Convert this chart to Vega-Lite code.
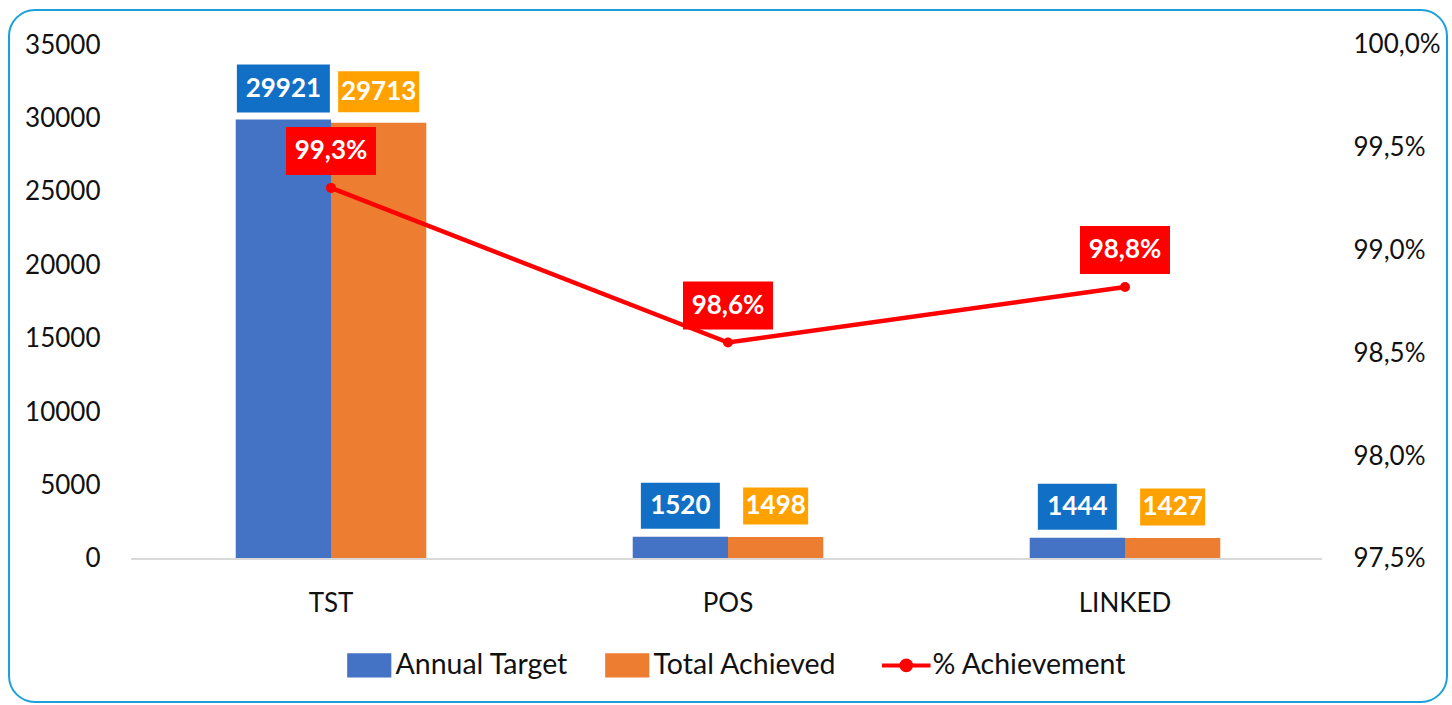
{
  "$schema": "https://vega.github.io/schema/vega-lite/v6.json",
  "width": 1438,
  "height": 692,
  "autosize": "none",
  "padding": {"left": 9, "top": 10, "right": 5, "bottom": 3},
  "background": "white",
  "config": {
    "font": "Lato",
    "locale": {"number": {"decimal": ",", "thousands": ".", "grouping": [3], "currency": ["", " €"]}},
    "view": {"stroke": "#1AA0DB", "strokeWidth": 2, "cornerRadius": 26},
    "axis": {"grid": false, "ticks": false, "domain": false, "labelFontSize": 26, "labelColor": "#111111"}
  },
  "datasets": {
    "bars": [
      {"cat": "TST", "series": "Annual Target", "value": 29921},
      {"cat": "TST", "series": "Total Achieved", "value": 29713},
      {"cat": "POS", "series": "Annual Target", "value": 1520},
      {"cat": "POS", "series": "Total Achieved", "value": 1498},
      {"cat": "LINKED", "series": "Annual Target", "value": 1444},
      {"cat": "LINKED", "series": "Total Achieved", "value": 1427}
    ],
    "pct": [
      {"cat": "TST", "pct": 0.99305},
      {"cat": "POS", "pct": 0.98553},
      {"cat": "LINKED", "pct": 0.98823}
    ]
  },
  "layer": [
    {
      "layer": [
        {
          "data": {"name": "bars"},
          "mark": {"type": "bar"},
          "encoding": {
            "x": {"field": "cat", "type": "nominal", "title": null,
              "scale": {"domain": ["TST", "POS", "LINKED"], "paddingInner": 0.52, "paddingOuter": 0.5711},
              "axis": {"orient": "bottom", "offset": -143, "labelPadding": 31, "labelAngle": 0, "labelFontSize": 26}},
            "xOffset": {"field": "series", "type": "nominal",
              "scale": {"domain": ["Annual Target", "Total Achieved"], "paddingInner": 0, "paddingOuter": 0}},
            "y": {"field": "value", "type": "quantitative", "title": null, "stack": null,
              "scale": {"domain": [-9737.4, 37383.3], "nice": false, "zero": false},
              "axis": {"orient": "left", "values": [0, 5000, 10000, 15000, 20000, 25000, 30000, 35000], "format": "d", "offset": -96, "labelPadding": 5}},
            "y2": {"datum": 0},
            "color": {"field": "series", "type": "nominal",
              "scale": {"domain": ["Annual Target", "Total Achieved", "% Achievement"], "range": ["#4472C4", "#ED7D31", "#FF0000"]},
              "legend": {
                "orient": "none", "legendX": 346, "legendY": 641, "direction": "horizontal", "title": null,
                "labelFontSize": 28.5, "labelColor": "#111111", "labelOffset": 12, "labelLimit": 400, "columnPadding": 36,
                "symbolSize": 1950, "symbolStrokeWidth": 4,
                "encode": {"symbols": {"update": {
                  "shape": {"signal": "datum.value === '% Achievement' ? 'M-1.1,0H1.1M-0.22,0A0.22,0.22 0 1,1 0.22,0A0.22,0.22 0 1,1 -0.22,0Z' : 'M-1,-0.55H1V0.55H-1Z'"},
                  "fill": {"signal": "datum.value === 'Annual Target' ? '#4472C4' : datum.value === 'Total Achieved' ? '#ED7D31' : '#FF0000'"},
                  "stroke": {"signal": "datum.value === '% Achievement' ? '#FF0000' : 'transparent'"},
                  "strokeWidth": {"signal": "datum.value === '% Achievement' ? 4 : 0"},
                  "opacity": {"value": 1},
                  "fillOpacity": {"value": 1}
                }}}
              }
            }
          }
        },
        {
          "data": {"values": [{"base": 0}]},
          "mark": {"type": "rule", "color": "#D9D9D9", "strokeWidth": 2, "xOffset": -200, "x2Offset": 197},
          "encoding": {
            "x": {"datum": "TST", "type": "nominal", "bandPosition": 0.5, "title": null},
            "x2": {"datum": "LINKED", "bandPosition": 0.5},
            "y": {"field": "base", "type": "quantitative", "title": null}
          }
        },
        {
          "data": {"name": "bars"},
          "mark": {"type": "point", "filled": true, "size": 10000, "opacity": 1, "strokeWidth": 0, "yOffset": -31},
          "encoding": {
            "x": {"field": "cat", "type": "nominal", "title": null},
            "xOffset": {"field": "series", "type": "nominal"},
            "y": {"field": "value", "type": "quantitative", "title": null},
            "shape": {"condition": [
              {"test": "datum.series === 'Annual Target' && datum.value >= 10000", "value": "M-0.93,-0.48H0.93V0.48H-0.93Z"},
              {"test": "datum.series === 'Annual Target'", "value": "M-0.79,-0.46H0.79V0.46H-0.79Z"},
              {"test": "datum.value >= 10000", "value": "M-0.81,-0.41H0.81V0.41H-0.81Z"}
            ], "value": "M-0.65,-0.37H0.65V0.37H-0.65Z"},
            "fill": {"condition": {"test": "datum.series === 'Annual Target'", "value": "#1170C6"}, "value": "#FFA200"}
          }
        },
        {
          "data": {"name": "bars"},
          "mark": {"type": "text", "fontWeight": "bold", "fontSize": 26, "color": "white", "baseline": "middle", "yOffset": -31},
          "encoding": {
            "x": {"field": "cat", "type": "nominal", "title": null},
            "xOffset": {"field": "series", "type": "nominal"},
            "y": {"field": "value", "type": "quantitative", "title": null},
            "text": {"field": "value", "type": "quantitative", "format": "d"}
          }
        }
      ]
    },
    {
      "data": {"name": "pct"},
      "layer": [
        {
          "mark": {"type": "line", "color": "#FF0000", "strokeWidth": 4.5},
          "encoding": {
            "x": {"field": "cat", "type": "nominal", "title": null},
            "y": {"field": "pct", "type": "quantitative", "title": null,
              "scale": {"domain": [0.9680447, 1.0017023], "nice": false, "zero": false},
              "axis": {"orient": "right", "values": [0.975, 0.98, 0.985, 0.99, 0.995, 1.0], "format": ".1%", "offset": -99, "labelPadding": 5}}
          }
        },
        {
          "mark": {"type": "circle", "color": "#FF0000", "size": 100, "opacity": 1},
          "encoding": {
            "x": {"field": "cat", "type": "nominal", "title": null},
            "y": {"field": "pct", "type": "quantitative", "title": null}
          }
        },
        {
          "mark": {"type": "point", "filled": true, "size": 10000, "opacity": 1, "strokeWidth": 0, "yOffset": -37, "fill": "#FF0000", "shape": "M-0.9,-0.48H0.9V0.48H-0.9Z"},
          "encoding": {
            "x": {"field": "cat", "type": "nominal", "title": null},
            "y": {"field": "pct", "type": "quantitative", "title": null}
          }
        },
        {
          "mark": {"type": "text", "fontWeight": "bold", "fontSize": 26, "color": "white", "baseline": "middle", "yOffset": -37},
          "encoding": {
            "x": {"field": "cat", "type": "nominal", "title": null},
            "y": {"field": "pct", "type": "quantitative", "title": null},
            "text": {"field": "pct", "type": "quantitative", "format": ".1%"}
          }
        }
      ]
    }
  ],
  "resolve": {"scale": {"y": "independent"}}
}
